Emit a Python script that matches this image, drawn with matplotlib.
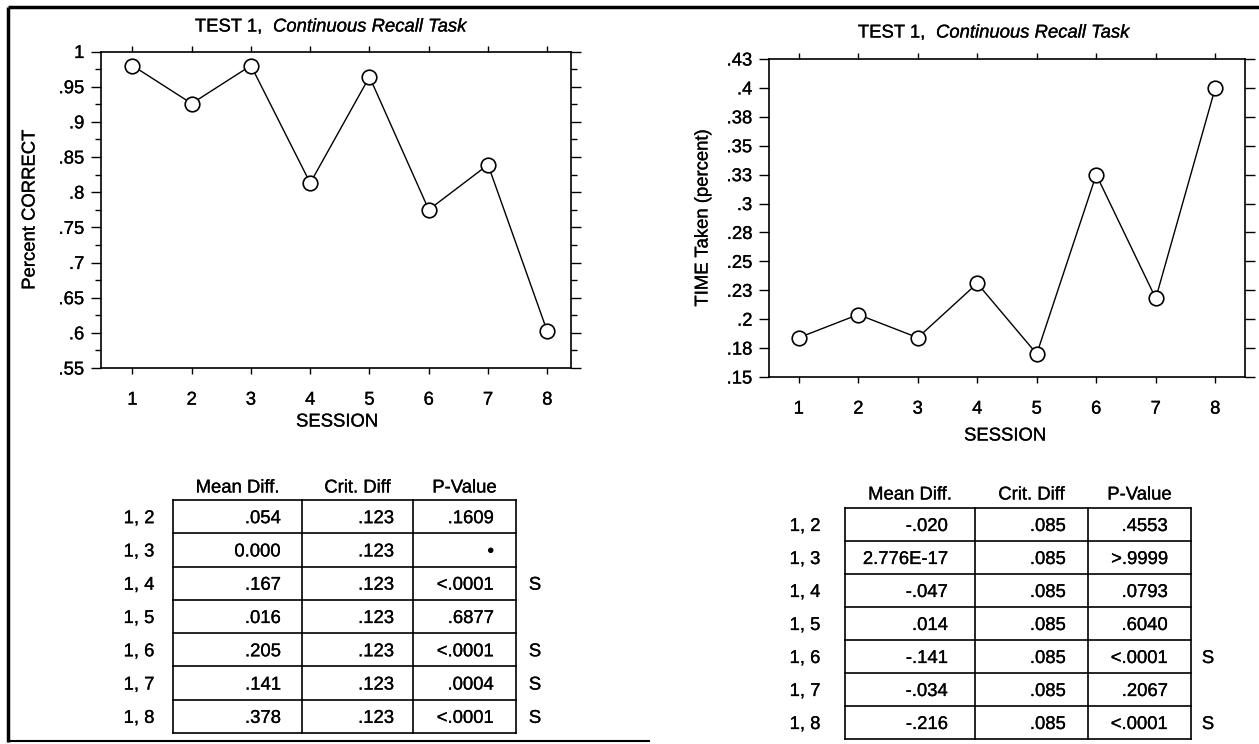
import matplotlib
matplotlib.use("Agg")
import matplotlib.pyplot as plt
import matplotlib.patheffects as pe
from matplotlib.text import Text
from matplotlib.ticker import FixedLocator

plt.rcParams['font.family'] = ['Liberation Sans', 'DejaVu Sans']

# ---------------- data ----------------
sessions = [1, 2, 3, 4, 5, 6, 7, 8]
pct_correct = [0.980, 0.926, 0.980, 0.813, 0.964, 0.775, 0.839, 0.602]
time_taken = [0.184, 0.204, 0.184, 0.231, 0.170, 0.325, 0.218, 0.400]

left_yticks = [0.55, 0.60, 0.65, 0.70, 0.75, 0.80, 0.85, 0.90, 0.95, 1.00]
left_yticklabels = ['.55', '.6', '.65', '.7', '.75', '.8', '.85', '.9', '.95', '1']
right_yticks = [0.15, 0.175, 0.20, 0.225, 0.25, 0.275, 0.30, 0.325, 0.35, 0.375, 0.40, 0.425]
right_yticklabels = ['.15', '.18', '.2', '.23', '.25', '.28', '.3', '.33', '.35', '.38', '.4', '.43']

title_plain = 'TEST 1,'
title_italic = 'Continuous Recall Task'
xlabel = 'SESSION'
left_ylabel = 'Percent CORRECT'
right_ylabel = 'TIME Taken (percent)'

table_headers = ['Mean Diff.', 'Crit. Diff', 'P-Value']
pairs = ['1, 2', '1, 3', '1, 4', '1, 5', '1, 6', '1, 7', '1, 8']
left_mean_diff = ['.054', '0.000', '.167', '.016', '.205', '.141', '.378']
left_crit_diff = ['.123'] * 7
left_p_value = ['.1609', '\u2022', '<.0001', '.6877', '<.0001', '.0004', '<.0001']
left_sig = ['', '', 'S', '', 'S', 'S', 'S']
right_mean_diff = ['-.020', '2.776E-17', '-.047', '.014', '-.141', '-.034', '-.216']
right_crit_diff = ['.085'] * 7
right_p_value = ['.4553', '>.9999', '.0793', '.6040', '<.0001', '.2067', '<.0001']
right_sig = ['', '', '', '', 'S', '', 'S']

# ---------------- figure ----------------
W, H = 1259, 744
fig = plt.figure(figsize=(W / 100, H / 100), dpi=100)
fig.patch.set_facecolor('white')

FS = 13.3


def px_axes(l, t, r, b):
    return fig.add_axes([l / W, 1 - b / H, (r - l) / W, (b - t) / H])


def style_axes(ax, yt, ytl, minor=None):
    for s in ax.spines.values():
        s.set_linewidth(1.2)
    ax.set_xticks(sessions)
    ax.set_xticklabels([str(s) for s in sessions], fontsize=FS)
    ax.set_yticks(yt)
    ax.set_yticklabels(ytl, fontsize=FS)
    if minor is not None:
        ax.yaxis.set_minor_locator(FixedLocator(minor))
    ax.tick_params(axis='x', which='major', direction='out', length=4, width=1,
                   top=True, bottom=True, pad=13)
    ax.tick_params(axis='y', which='major', direction='out', length=7, width=1,
                   left=True, right=True, pad=5)
    ax.tick_params(axis='y', which='minor', direction='out', length=4, width=1,
                   left=True, right=True)


def draw_series(ax, y):
    ax.plot(sessions, y, color='black', lw=1.0, marker='o', ms=10.5,
            mfc='white', mec='black', mew=1.2, zorder=3, clip_on=False)


# left chart
axL = px_axes(101, 51.5, 571, 368)
axL.set_xlim(0.47, 8.4)
axL.set_ylim(0.55, 1.0)
style_axes(axL, left_yticks, left_yticklabels,
           minor=[0.575 + 0.05 * i for i in range(9)])
draw_series(axL, pct_correct)
axL.set_xlabel(xlabel, fontsize=FS)
axL.xaxis.set_label_coords((337 - 101) / 470, (368 - 422) / 316.5)
axL.xaxis.label.set_va('center')
axL.set_ylabel(left_ylabel, fontsize=FS)
axL.yaxis.set_label_coords((30 - 101) / 470, 0.5)
axL.yaxis.label.set_va('center')

# right chart
axR = px_axes(769, 59, 1245, 377)
axR.set_xlim(0.5, 8.5)
axR.set_ylim(0.15, 0.425)
style_axes(axR, right_yticks, right_yticklabels)
draw_series(axR, time_taken)
axR.set_xlabel(xlabel, fontsize=FS)
axR.xaxis.set_label_coords((1005 - 769) / 476, (377 - 436) / 318)
axR.xaxis.label.set_va('center')
axR.set_ylabel(right_ylabel, fontsize=FS)
axR.yaxis.set_label_coords((703 - 769) / 476, 0.5)
axR.yaxis.label.set_va('center')

# overlay in pixel coordinates for titles, tables and border
ov = fig.add_axes([0, 0, 1, 1])
ov.set_xlim(0, W)
ov.set_ylim(H, 0)
ov.set_axis_off()
ov.patch.set_visible(False)

# titles
for x_plain_end, x_it, y in [(262, 273, 27), (925, 936, 33)]:
    ov.text(x_plain_end, y, title_plain, ha='right', va='center', fontsize=FS)
    ov.text(x_it, y, title_italic, ha='left', va='center', fontsize=FS,
            style='italic')

# border
ov.plot([8, W], [7, 7], color='black', lw=2.5, solid_capstyle='butt')
ov.plot([8, 8], [7, 742], color='black', lw=2.5, solid_capstyle='butt')
ov.plot([8, 650], [741, 741], color='black', lw=1.5, solid_capstyle='butt')


def draw_table(cols, top, bottom, header_y, label_x, sig_x, text_right,
               mean, crit, pval, sig):
    n = len(pairs)
    rh = (bottom - top) / n
    lw = 1.2
    for i in range(n + 1):
        y = top + i * rh
        ov.plot([cols[0], cols[-1]], [y, y], color='black', lw=lw)
    for c in cols:
        ov.plot([c, c], [top, bottom], color='black', lw=lw)
    for j, h in enumerate(table_headers):
        ov.text((cols[j] + cols[j + 1]) / 2, header_y, h, ha='center',
                va='center', fontsize=FS)
    for i in range(n):
        yc = top + (i + 0.5) * rh + 2
        ov.text(label_x, yc, pairs[i], ha='center', va='center', fontsize=FS)
        for j, vals in enumerate([mean, crit, pval]):
            ov.text(text_right[j], yc, vals[i], ha='right', va='center',
                    fontsize=FS)
        if sig[i]:
            ov.text(sig_x, yc, sig[i], ha='center', va='center', fontsize=FS)


draw_table([173, 302, 413, 516], 500, 733, 488, 139, 535, [281, 394, 494],
           left_mean_diff, left_crit_diff, left_p_value, left_sig)
draw_table([845, 975, 1088, 1191], 508, 739, 495, 805, 1208, [948, 1066, 1168],
           right_mean_diff, right_crit_diff, right_p_value, right_sig)

# scanned print looks slightly heavier
for t in fig.findobj(Text):
    t.set_path_effects([pe.withStroke(linewidth=0.2, foreground='black')])

fig.savefig('out.png', dpi=100, facecolor='white')
